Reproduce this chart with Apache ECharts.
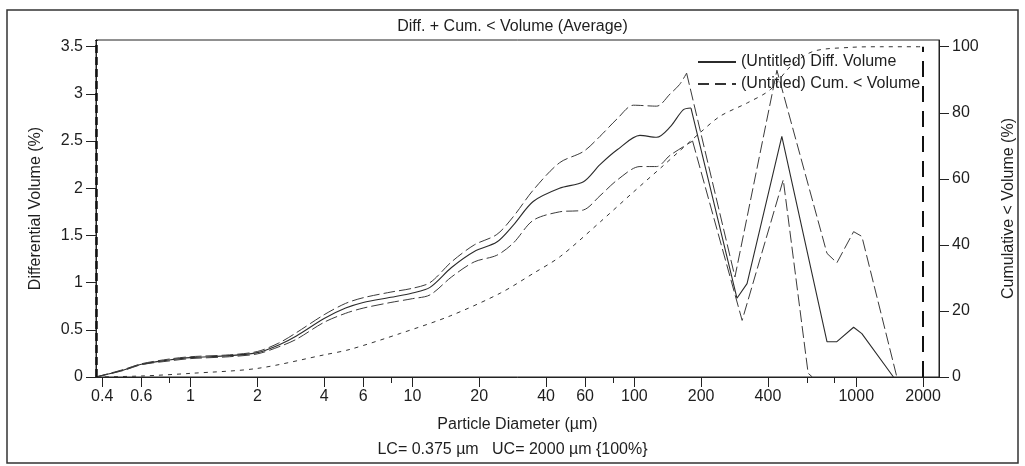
<!DOCTYPE html>
<html>
<head>
<meta charset="utf-8">
<script src="https://cdn.jsdelivr.net/npm/echarts@6/dist/echarts.min.js"></script>
<style>
html,body{margin:0;padding:0;background:#fff;}
#chart{width:1025px;height:466px;}
</style>
</head>
<body>
<div id="chart"></div>
<script>
// particle diameters (µm) and differential volume (%)
var meanX = [0.375,0.5,0.6,0.8,1,1.5,2,2.5,3,4,5,6,8,10,12,15,19,24,28.5,35,46,59,70,84,106,126,145,166,180,290,322,462,738,818,973,1060,1471];
var meanY = [0,0.074,0.135,0.18,0.205,0.226,0.258,0.34,0.435,0.62,0.73,0.79,0.845,0.89,0.95,1.16,1.33,1.43,1.61,1.86,2.0,2.07,2.25,2.41,2.56,2.54,2.65,2.83,2.85,0.835,0.99,2.55,0.374,0.374,0.527,0.46,0];

var upperX = [0.375,0.5,0.6,0.8,1,1.5,2,2.5,3,4,5,6,8,10,12,15,19,24,28.5,35,46,59,70,84,99,126,145,160,172,284,439,738,818,973,1060,1524];
var upperY = [0,0.08,0.14,0.19,0.215,0.235,0.27,0.36,0.47,0.66,0.78,0.84,0.9,0.94,1.0,1.22,1.40,1.51,1.70,1.98,2.27,2.39,2.55,2.74,2.88,2.87,3.0,3.1,3.22,1.06,3.25,1.31,1.21,1.54,1.49,0];

var lowerX = [0.375,0.5,0.6,0.8,1,1.5,2,2.5,3,4,5,6,8,10,12,15,19,24,28.5,35,46,59,70,84,106,126,145,183,306,469,607,634];
var lowerY = [0,0.07,0.13,0.17,0.195,0.215,0.245,0.32,0.40,0.58,0.675,0.73,0.79,0.83,0.87,1.06,1.22,1.29,1.42,1.66,1.75,1.77,1.92,2.09,2.23,2.23,2.35,2.5,0.6,2.09,0.04,0];

// cumulative < volume (%)
var cumX = [0.375,0.6,1,2,4,5.26,8.83,14.8,24.9,35.1,46.4,70.3,99,135,198,244,323,410,505,640,940,1282,2000];
var cumY = [0,0.3,1.1,2.6,6.7,8.4,13.2,18.5,25.4,31.4,36.5,47,56,64,74,79,83,87,94,98.6,99.8,100,100];

var xLabels = [0.4,0.6,1,2,4,6,10,20,40,60,100,200,400,1000,2000];
var xMinorTicks = [0.8,8,80,600,800];
var leftTicks = [0,0.5,1,1.5,2,2.5,3,3.5];
var rightTicks = [0,20,40,60,80,100];

// the instrument draws a smooth curve below ~190 µm and straight segments above
var smoothUntil = 190;

function pairs(xs, ys){
    return xs.map(function(x, i){ return [x, ys[i]]; });
}
function leftPart(xs, ys){
    var out = [], i;
    for (i = 0; i < xs.length && xs[i] <= smoothUntil; i++) out.push([xs[i], ys[i]]);
    return out;
}
function rightPart(xs, ys){
    var out = [], i, start = 0;
    for (i = 0; i < xs.length; i++) if (xs[i] <= smoothUntil) start = i;
    for (i = start; i < xs.length; i++) out.push([xs[i], ys[i]]);
    return out;
}

var font = "'Liberation Sans', Arial, sans-serif";
var ink = '#1e1e1e';
var meanName = '(Untitled) Diff. Volume';
var cumName = '(Untitled) Cum. < Volume';
var sdLine = { color: '#3a3a3a', width: 1, type: [12, 4] };
var meanLine = { color: '#2b2b2b', width: 1.1, type: 'solid' };

var chart = echarts.init(document.getElementById('chart'));
var option = {
    animation: false,
    backgroundColor: '#fff',
    textStyle: { fontFamily: font, color: ink },
    graphic: [
        { type: 'rect', shape: { x: 7, y: 10, width: 1011, height: 453 },
          style: { fill: 'none', stroke: '#333', lineWidth: 1.5 }, silent: true },
        { type: 'text', left: 'center', top: 19,
          style: { text: 'Diff. + Cum. < Volume (Average)', font: '16px ' + font, fill: ink }, silent: true },
        { type: 'text', left: 'center', top: 442,
          style: { text: 'LC= 0.375 µm   UC= 2000 µm {100%}', font: '16px ' + font, fill: ink }, silent: true }
    ],
    legend: {
        orient: 'vertical',
        left: 692,
        top: 49,
        itemWidth: 38,
        itemHeight: 14,
        itemGap: 6,
        itemStyle: { color: 'rgba(0,0,0,0)', borderWidth: 0 },
        textStyle: { fontSize: 16, fontFamily: font, color: ink },
        data: [
            { name: meanName },
            { name: cumName, lineStyle: { type: [11, 6] } }
        ]
    },
    grid: {
        left: 96, right: 86, top: 40, bottom: 89,
        show: true, borderColor: '#222', borderWidth: 1,
        containLabel: false
    },
    xAxis: [{
        type: 'log',
        logBase: 10,
        min: 0.375,
        max: 2360,
        name: 'Particle Diameter (µm)',
        nameLocation: 'middle',
        nameGap: 40,
        nameTextStyle: { fontSize: 16, color: ink },
        axisLine: { show: true, lineStyle: { color: '#222', width: 1 } },
        axisTick: { show: true, length: 10, customValues: xLabels, lineStyle: { color: '#222' } },
        axisLabel: { customValues: xLabels, margin: 12, fontSize: 16, color: ink,
            formatter: function(v){ return String(v); } },
        splitLine: { show: false },
        minorTick: { show: false }
    }, {
        type: 'log',
        logBase: 10,
        min: 0.375,
        max: 2360,
        position: 'bottom',
        axisLine: { show: false },
        axisTick: { show: true, length: 6, customValues: xMinorTicks, lineStyle: { color: '#222' } },
        axisLabel: { show: false },
        splitLine: { show: false }
    }],
    yAxis: [{
        type: 'value',
        min: 0,
        max: 3.571,
        name: 'Differential Volume (%)',
        nameLocation: 'middle',
        nameGap: 52,
        nameTextStyle: { fontSize: 16, color: ink },
        axisLine: { show: true, lineStyle: { color: '#222' } },
        axisTick: { show: true, length: 10, customValues: leftTicks, lineStyle: { color: '#222' } },
        axisLabel: { customValues: leftTicks, margin: 13, fontSize: 16, color: ink },
        splitLine: { show: false }
    }, {
        type: 'value',
        position: 'right',
        min: 0,
        max: 102.04,
        name: 'Cumulative < Volume (%)',
        nameLocation: 'middle',
        nameGap: 62,
        nameTextStyle: { fontSize: 16, color: ink },
        axisLine: { show: true, lineStyle: { color: '#222' } },
        axisTick: { show: true, length: 10, customValues: rightTicks, lineStyle: { color: '#222' } },
        axisLabel: { customValues: rightTicks, margin: 13, fontSize: 16, color: ink },
        splitLine: { show: false }
    }],
    series: [
        {
            name: meanName,
            type: 'line',
            data: leftPart(meanX, meanY),
            symbol: 'none',
            smooth: 0.3,
            color: '#2b2b2b',
            lineStyle: meanLine,
            markLine: {
                silent: true,
                symbol: 'none',
                label: { show: false },
                lineStyle: { color: '#111', width: 2.5, type: [8, 4] },
                data: [[{ coord: [0.375, 0] }, { coord: [0.375, 3.571] }]]
            }
        },
        {
            name: meanName,
            type: 'line',
            data: rightPart(meanX, meanY),
            symbol: 'none',
            color: '#2b2b2b',
            lineStyle: meanLine
        },
        {
            name: 'upper',
            type: 'line',
            data: leftPart(upperX, upperY),
            symbol: 'none',
            smooth: 0.3,
            lineStyle: sdLine
        },
        {
            name: 'upper',
            type: 'line',
            data: rightPart(upperX, upperY),
            symbol: 'none',
            lineStyle: sdLine
        },
        {
            name: 'lower',
            type: 'line',
            data: leftPart(lowerX, lowerY),
            symbol: 'none',
            smooth: 0.3,
            lineStyle: sdLine
        },
        {
            name: 'lower',
            type: 'line',
            data: rightPart(lowerX, lowerY),
            symbol: 'none',
            lineStyle: sdLine
        },
        {
            name: cumName,
            type: 'line',
            yAxisIndex: 1,
            data: pairs(cumX, cumY),
            symbol: 'none',
            smooth: 0.3,
            color: '#333',
            lineStyle: { color: '#333', width: 1, type: [4, 5] },
            markLine: {
                silent: true,
                symbol: 'none',
                label: { show: false },
                lineStyle: { color: '#111', width: 2, type: [16, 9] },
                data: [[{ coord: [2000, 0] }, { coord: [2000, 100] }]]
            }
        },
        {
            name: 'minorTicks',
            type: 'line',
            xAxisIndex: 1,
            data: [],
            symbol: 'none'
        }
    ]
};
chart.setOption(option);
window.addEventListener('resize', function () {
    chart.resize();
});
</script>
</body>
</html>
